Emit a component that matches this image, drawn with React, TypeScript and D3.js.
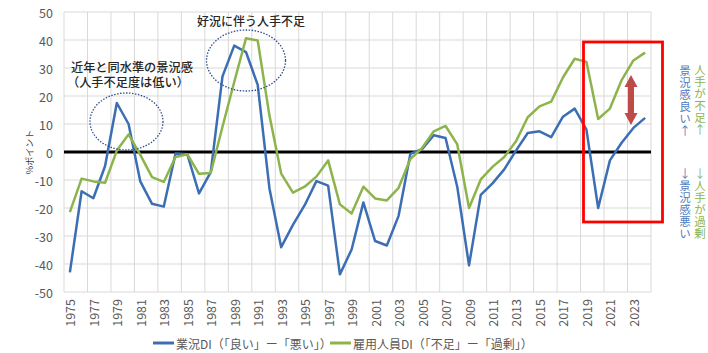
import React from "react";
import * as d3 from "d3";

const years = d3.range(1975, 2025).map(String);

// 業況DI（「良い」ー「悪い」）
const businessDI = [
  -43, -14, -16.5, -5, 17.5, 10, -10.5, -18.5, -19.5, -0.5,
  -0.8, -14.8, -7.2, 27, 38, 35.7, 24, -13, -34, -26,
  -19, -10.4, -12, -43.7, -34.8, -18, -31.8, -33.4, -22.8, -0.7,
  1, 6, 5, -12.5, -40.5, -15.3, -11.2, -6.2, 0.5, 6.8,
  7.4, 5.3, 12.6, 15.5, 8, -20, -3, 3.3, 8.6, 12.2,
];

// 雇用人員DI（「不足」ー「過剰」）
const employmentDI = [
  -21.5, -9.5, -10.5, -11, 0.5, 6.3, -1, -9, -10.7, -1.8,
  -0.8, -7.8, -7.5, 9, 25, 40.6, 39.8, 13, -7.7, -14.5,
  -12.4, -8.8, -3, -18.7, -22, -12.4, -16.6, -17.3, -12.8, -2.5,
  1.4, 7.4, 9.3, 2.7, -20, -9.8, -5.3, -1.8, 3.8, 12.4,
  16.3, 18, 26.6, 33.3, 32.2, 11.8, 15.5, 25.7, 32.7, 35.5,
];

const yTicks = [50, 40, 30, 20, 10, 0, -10, -20, -30, -40, -50];

const legendItems = [
  { label: "業況DI（「良い」ー「悪い」）", color: "#3C6EB4" },
  { label: "雇用人員DI（「不足」ー「過剰」）", color: "#8DB44C" },
];

const sideNotes = [
  { text: "景況感良い↑", x: 685, y: 65, color: "#4F7EC0" },
  { text: "人手が不足↑", x: 700, y: 64, color: "#8DB44C" },
  { text: "↓景況感悪い", x: 685, y: 168, color: "#4F7EC0" },
  { text: "↓人手が過剰", x: 700, y: 168, color: "#8DB44C" },
];

const font = "'Noto Sans CJK JP', 'Noto Sans', sans-serif";

export default function App() {
  const width = 708;
  const height = 353;
  const margin = { left: 64, right: 57, top: 12, bottom: 61 };

  const x = d3
    .scaleBand()
    .domain(years)
    .range([margin.left, width - margin.right]);
  const y = d3
    .scaleLinear()
    .domain([-50, 50])
    .range([height - margin.bottom, margin.top]);

  const cx = (i: number) => (x(years[i]) as number) + x.bandwidth() / 2;

  const line = d3
    .line<number>()
    .x((_, i) => cx(i))
    .y((d) => y(d));

  const vGrid = years.filter((_, i) => i % 2 === 0).map((yr) => x(yr) as number);
  vGrid.push(width - margin.right);

  return (
    <div style={{ position: "fixed", left: 0, top: 0 }}>
      <svg width={width} height={height} style={{ display: "block", fontFamily: font }}>
        <rect width={width} height={height} fill="#fff" />
        {/* grid */}
        {yTicks.map((t) => (
          <line
            key={"h" + t}
            x1={margin.left}
            x2={width - margin.right}
            y1={y(t)}
            y2={y(t)}
            stroke="#D9D9D9"
            strokeWidth={1}
          />
        ))}
        {vGrid.map((gx, i) => (
          <line key={"v" + i} x1={gx} x2={gx} y1={y(50)} y2={y(-50)} stroke="#D9D9D9" strokeWidth={1} />
        ))}

        {/* y axis labels */}
        {yTicks.map((t) => (
          <text
            key={"yl" + t}
            x={53}
            y={y(t)}
            textAnchor="end"
            dominantBaseline="central"
            fontSize={12.5}
            fill="#595959"
          >
            {t}
          </text>
        ))}
        <text
          transform={`translate(29,${y(0)}) rotate(-90)`}
          textAnchor="middle"
          dominantBaseline="central"
          fontSize={9}
          fill="#404040"
        >
          %ポイント
        </text>

        {/* x axis labels */}
        {years.map((yr, i) =>
          i % 2 === 0 ? (
            <text
              key={"xl" + yr}
              transform={`translate(${cx(i)},${y(-50) + 7}) rotate(-90)`}
              textAnchor="end"
              dominantBaseline="central"
              fontSize={12.5}
              fill="#595959"
            >
              {yr}
            </text>
          ) : null
        )}

        {/* zero line */}
        <line
          x1={margin.left}
          x2={width - margin.right}
          y1={y(0)}
          y2={y(0)}
          stroke="#000"
          strokeWidth={3}
        />

        {/* series */}
        <path d={line(businessDI) ?? ""} fill="none" stroke={legendItems[0].color} strokeWidth={2.5} strokeLinejoin="round" />
        <path d={line(employmentDI) ?? ""} fill="none" stroke={legendItems[1].color} strokeWidth={2.5} strokeLinejoin="round" />

        {/* annotations */}
        <ellipse cx={126.5} cy={121.5} rx={36.5} ry={28.5} fill="none" stroke="#2F4F8F" strokeWidth={1.3} strokeDasharray="1.5 1.5" />
        <ellipse cx={246} cy={60.5} rx={39.5} ry={30.5} fill="none" stroke="#2F4F8F" strokeWidth={1.3} strokeDasharray="1.5 1.5" />
        <text fontSize={12.2} fill="#262626" fontWeight={500}>
          <tspan x={71} y={72}>近年と同水準の景況感</tspan>
          <tspan x={67} y={86.5}>（人手不足度は低い）</tspan>
        </text>
        <text x={197} y={25.5} fontSize={12} fill="#262626" fontWeight={500}>
          好況に伴う人手不足
        </text>

        <rect x={583.5} y={42} width={79} height={180} fill="none" stroke="#FF0000" strokeWidth={2.8} />

        {/* double arrow */}
        <path
          d="M631,75 L637.5,87 L634,87 L634,113 L637.5,113 L631,125 L624.5,113 L628,113 L628,87 L624.5,87 Z"
          fill="#BE4B48"
        />

        {sideNotes.map((n) => (
          <text
            key={n.text}
            x={n.x}
            y={n.y}
            fontSize={11.5}
            fill={n.color}
            style={{ writingMode: "vertical-rl", textOrientation: "upright", letterSpacing: "0.5px" }}
          >
            {n.text}
          </text>
        ))}

        {/* legend */}
        {legendItems.map((item, i) => {
          const lx = i === 0 ? 153 : 330;
          return (
            <g key={item.label}>
              <line x1={lx} x2={lx + 21} y1={343} y2={343} stroke={item.color} strokeWidth={3} />
              <text x={lx + 23} y={343} dominantBaseline="central" fontSize={12} fill="#595959">
                {item.label}
              </text>
            </g>
          );
        })}
      </svg>
    </div>
  );
}
